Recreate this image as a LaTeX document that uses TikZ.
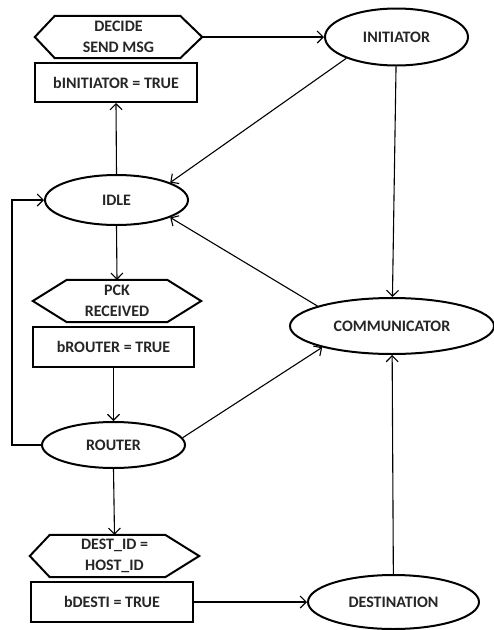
\documentclass[tikz,border=0pt]{standalone}
\usepackage{fontspec}
\setmainfont{Carlito}
\usetikzlibrary{shapes.geometric,arrows.meta}
\newcommand\hexpath[3]{\draw[border] (#1.west) -- ([xshift=#2]#1.north west) -- ([xshift=-#3]#1.north east) -- (#1.east) -- ([xshift=-#3]#1.south east) -- ([xshift=#2]#1.south west) -- cycle;}
\begin{document}
\begin{tikzpicture}[x=1pt,y=-1pt,
  every node/.style={font=\bfseries\fontsize{16}{21}\selectfont, inner sep=0pt, align=center, text=black!85},
  border/.style={line width=2pt, line join=miter},
  ell/.style={ellipse, draw, border},
  box/.style={rectangle, draw, border},
  hex/.style={rectangle},
  conn/.style={line width=1.1pt, -{Straight Barb[length=6pt,width=12pt]}}]
\useasboundingbox (0,0) rectangle (494,630);
% nodes
\node[hex, minimum width=167pt, minimum height=42pt] (dec) at (118.5,37) {DECIDE\\SEND MSG};
\node[box, minimum width=162pt, minimum height=39pt] (bini) at (116,82.5) {bINITIATOR = TRUE};
\node[ell, minimum width=143pt, minimum height=57pt] (init) at (396.5,37) {INITIATOR};
\node[ell, minimum width=143pt, minimum height=50pt] (idle) at (116.5,200) {IDLE};
\node[hex, minimum width=168pt, minimum height=42pt] (pck) at (117,301) {PCK\\RECEIVED};
\node[box, minimum width=161pt, minimum height=40pt] (brout) at (113.5,347) {bROUTER = TRUE};
\node[ell, minimum width=204pt, minimum height=56pt] (comm) at (392,326) {COMMUNICATOR};
\node[ell, minimum width=143pt, minimum height=46pt] (router) at (113.5,445) {ROUTER};
\node[hex, minimum width=169pt, minimum height=42pt] (dest) at (114.5,556) {DEST\_ID =\\HOST\_ID};
\node[box, minimum width=162pt, minimum height=40pt] (bdesti) at (112,602) {bDESTI = TRUE};
\node[ell, minimum width=171pt, minimum height=54pt] (destn) at (393.5,602) {DESTINATION};
% hexagon outlines
\hexpath{dec}{20pt}{22pt}
\hexpath{pck}{34pt}{34pt}
\hexpath{dest}{20pt}{34pt}
% connectors
\draw[conn] (dec.east) -- (init.west);
\draw[conn] (init.203) -- (idle.18);
\draw[conn] (init) -- (comm);
\draw[conn] (comm.165) -- (idle.-18);
\draw[conn] (router.6) -- (comm.197);
\draw[conn] (idle.north) -- (bini.south);
\draw[conn] (idle.south) -- (pck.north);
\draw[conn] (brout.south) -- (router.north);
\draw[conn] (router.south) -- (dest.north);
\draw[conn] (router.west) -- ++(-29,0) |- (idle.west);
\draw[conn] (bdesti.east) -- (destn.west);
\draw[conn] (destn) -- (comm);
\end{tikzpicture}
\end{document}
